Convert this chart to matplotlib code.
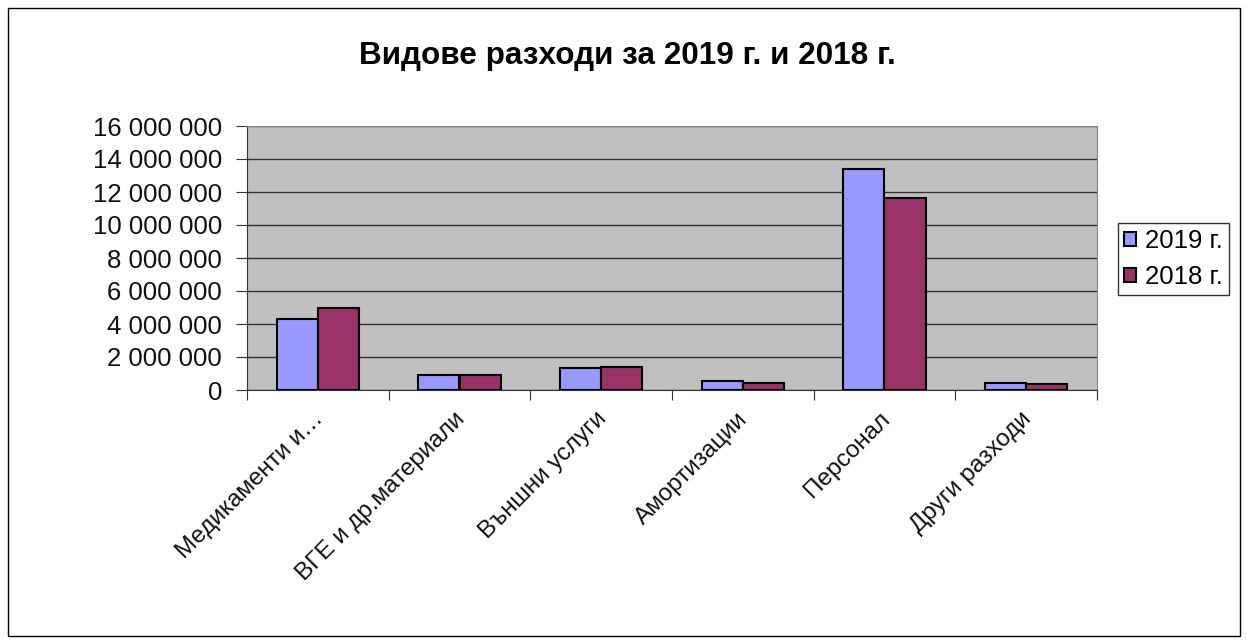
import matplotlib.pyplot as plt
import matplotlib.ticker as mticker
import matplotlib.transforms as mtransforms
from matplotlib.patches import Rectangle
import numpy as np

plt.rcParams['font.family'] = ['Liberation Sans', 'DejaVu Sans']

categories = ["Медикаменти и…", "ВГЕ и др.материали", "Външни услуги",
              "Амортизации", "Персонал", "Други разходи"]
values_2019 = [4320000, 880000, 1340000, 520000, 13400000, 440000]
values_2018 = [4960000, 880000, 1420000, 420000, 11620000, 360000]
series_names = ["2019 г.", "2018 г."]
colors = ["#9999FF", "#993366"]

W, H = 1247, 644
fig = plt.figure(figsize=(W / 100, H / 100), dpi=100)
fig.patch.set_facecolor("white")

# outer chart border
fig.add_artist(Rectangle((8 / W, 8 / H), 1232 / W, 628 / H, transform=fig.transFigure,
                         fill=False, edgecolor="black", linewidth=1))

ax = fig.add_axes([247 / W, 1 - 390 / H, 850 / W, 264 / H])
ax.set_facecolor("#C0C0C0")

x = np.arange(len(categories))
bw = 0.29
ax.bar(x - bw / 2, values_2019, bw, color=colors[0], edgecolor="black", linewidth=1.5,
       label=series_names[0], zorder=3)
ax.bar(x + bw / 2, values_2018, bw, color=colors[1], edgecolor="black", linewidth=1.5,
       label=series_names[1], zorder=3)

ax.set_xlim(-0.5, len(categories) - 0.5)
ax.set_ylim(0, 16000000)
ax.yaxis.set_major_locator(mticker.MultipleLocator(2000000))
ax.yaxis.set_major_formatter(mticker.FuncFormatter(lambda v, p: f"{int(v):,}".replace(",", " ")))
ax.grid(axis="y", color="#333333", linewidth=1, zorder=1)

# category boundary ticks
ax.set_xticks(np.arange(len(categories) + 1) - 0.5)
ax.set_xticklabels([])
ax.tick_params(axis="x", direction="out", length=7, color="#333333")
ax.tick_params(axis="y", direction="out", length=8, color="#333333", labelsize=18.5, pad=10)
for lbl in ax.get_yticklabels():
    lbl.set_color("#111111")

# rotated category labels, right end just below each category centre
off = mtransforms.ScaledTranslation(-6 / 100, -18 / 100, fig.dpi_scale_trans)
for i, c in enumerate(categories):
    ax.text(i, 0, c, rotation=45, ha="right", va="top", rotation_mode="anchor",
            fontsize=17.5, color="#111111", transform=ax.get_xaxis_transform() + off)

for s in ["top", "right"]:
    ax.spines[s].set_color("#888888")
for s in ["left", "bottom"]:
    ax.spines[s].set_color("#333333")

fig.text(627 / W, 1 - 56 / H, "Видове разходи за 2019 г. и 2018 г.", ha="center", va="center",
         fontsize=22.7, fontweight="bold")

leg = ax.legend(loc="upper left", bbox_to_anchor=(1118 / W, 1 - 223 / H),
                bbox_transform=fig.transFigure, frameon=True, fancybox=False,
                edgecolor="black", fontsize=18.5, handlelength=0.45, handleheight=0.45,
                handletextpad=0.35, borderpad=0.25, labelspacing=0.45, borderaxespad=0)
leg.get_frame().set_linewidth(1)

fig.savefig("out.png", dpi=100)
